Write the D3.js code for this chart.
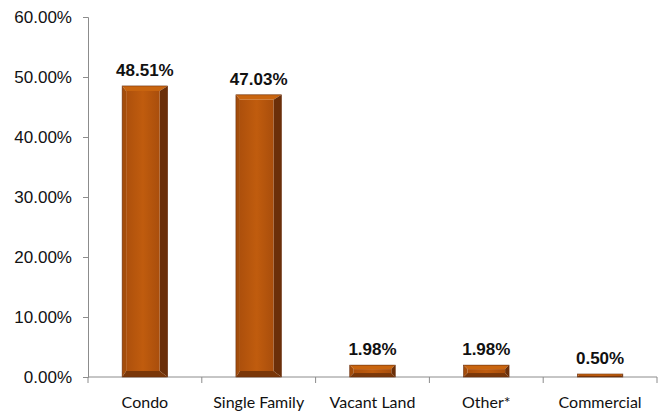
<!DOCTYPE html>
<html>
<head>
<meta charset="utf-8">
<script src="https://cdn.jsdelivr.net/npm/d3@7"></script>
<style>
  body { margin: 0; background: #fff; }
  svg { display: block; }
</style>
</head>
<body>
<div id="chart"></div>
<script>
// data
var categories = ["Condo", "Single Family", "Vacant Land", "Other*", "Commercial"];
var shares = [48.51, 47.03, 1.98, 1.98, 0.50];
var yTicks = [0, 10, 20, 30, 40, 50, 60];

var width = 663, height = 417;
var margin = {top: 17, right: 6, bottom: 40, left: 88};

var svg = d3.select("#chart").append("svg")
    .attr("width", width)
    .attr("height", height);

var x = d3.scaleBand()
    .domain(categories)
    .range([margin.left, width - margin.right])
    .paddingInner(0.6)
    .paddingOuter(0.3);

var y = d3.scaleLinear()
    .domain([0, 60])
    .range([height - margin.bottom, margin.top]);

// gradient for bar face
var defs = svg.append("defs");
var grad = defs.append("linearGradient").attr("id", "face")
    .attr("x1", 0).attr("x2", 1).attr("y1", 0).attr("y2", 0);
grad.append("stop").attr("offset", "0%").attr("stop-color", "#ad500c");
grad.append("stop").attr("offset", "50%").attr("stop-color", "#c05c0e");
grad.append("stop").attr("offset", "100%").attr("stop-color", "#a94e0c");

// y axis
var yAxis = svg.append("g")
    .attr("transform", "translate(" + margin.left + ",0)")
    .call(d3.axisLeft(y).tickValues(yTicks).tickSize(5).tickPadding(11)
        .tickFormat(function(d) { return d.toFixed(2) + "%"; }));
yAxis.selectAll("text")
    .style("font-family", "'Liberation Sans', Arial, sans-serif")
    .style("font-size", "17px")
    .attr("fill", "#111");
yAxis.selectAll("line, path").attr("stroke", "#8c8c8c");

// x axis with ticks between categories
var xAxis = svg.append("g")
    .attr("transform", "translate(0," + y(0) + ")");
xAxis.append("line")
    .attr("x1", margin.left).attr("x2", width - margin.right)
    .attr("stroke", "#8c8c8c");
var step = x.step();
var edges = categories.map(function(c) { return x(c) + x.bandwidth() / 2 - step / 2; });
edges.push(width - margin.right);
xAxis.selectAll(".tk").data(edges).enter().append("line")
    .attr("x1", function(d) { return d; }).attr("x2", function(d) { return d; })
    .attr("y1", 0).attr("y2", 6)
    .attr("stroke", "#8c8c8c");
xAxis.selectAll(".lbl").data(categories).enter().append("text")
    .attr("x", function(d) { return x(d) + x.bandwidth() / 2; })
    .attr("y", 31)
    .attr("text-anchor", "middle")
    .style("font-family", "Lato, 'Open Sans', sans-serif")
    .style("font-size", "16px")
    .attr("fill", "#111")
    .text(function(d) { return d; });

// bars with bevel
var bars = svg.append("g").selectAll("g")
    .data(categories.map(function(c, i) { return {cat: c, v: shares[i]}; }))
    .enter().append("g");

bars.each(function(d) {
    var g = d3.select(this);
    var x0 = x(d.cat), x1 = x0 + x.bandwidth();
    var y0 = y(d.v), y1 = y(0);
    var h = y1 - y0;
    var bl = Math.min(4, h / 3), br = Math.min(8, h / 3), bt = Math.min(5, h / 3), bb = Math.min(6, h / 3);
    var ix0 = x0 + bl, ix1 = x1 - br, iy0 = y0 + bt, iy1 = y1 - bb;
    function poly(pts, fill) {
        g.append("polygon")
            .attr("points", pts.map(function(p) { return p.join(","); }).join(" "))
            .attr("fill", fill);
    }
    poly([[x0, y0], [x1, y0], [ix1, iy0], [ix0, iy0]], "#c9650f");   // top
    poly([[x0, y0], [ix0, iy0], [ix0, iy1], [x0, y1]], "#a44d0b");   // left
    poly([[x1, y0], [x1, y1], [ix1, iy1], [ix1, iy0]], "#6b2f09");   // right
    poly([[x0, y1], [ix0, iy1], [ix1, iy1], [x1, y1]], "#7a3709");   // bottom
    g.append("rect")
        .attr("x", ix0).attr("y", iy0)
        .attr("width", Math.max(0, ix1 - ix0)).attr("height", Math.max(0, iy1 - iy0))
        .attr("fill", "url(#face)");
    g.append("rect")
        .attr("x", x0).attr("y", y0)
        .attr("width", x1 - x0).attr("height", h)
        .attr("fill", "none").attr("stroke", "#6a3010").attr("stroke-width", 0.6);
});

// value labels
bars.append("text")
    .attr("x", function(d) { return x(d.cat) + x.bandwidth() / 2; })
    .attr("y", function(d) { return y(d.v) - 10; })
    .attr("text-anchor", "middle")
    .style("font-family", "'Liberation Sans', Arial, sans-serif")
    .style("font-size", "17px")
    .style("font-weight", "bold")
    .attr("fill", "#111")
    .text(function(d) { return d.v.toFixed(2) + "%"; });
</script>
</body>
</html>
